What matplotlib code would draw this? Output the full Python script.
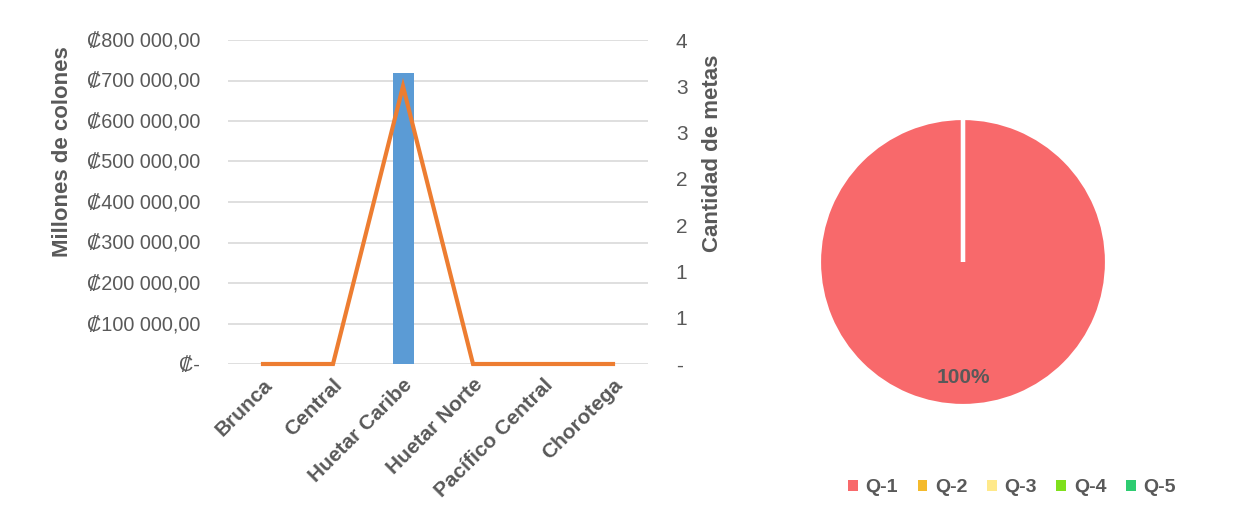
import numpy as np
import matplotlib.pyplot as plt
from matplotlib.patches import Patch
from matplotlib.ticker import FuncFormatter

plt.rcParams['font.family'] = ['Liberation Sans', 'DejaVu Sans']

# data
regiones = ['Brunca', 'Central', 'Huetar Caribe', 'Huetar Norte', 'Pacífico Central', 'Chorotega']
monto = [0, 0, 718000, 0, 0, 0]
metas = [0, 0, 3, 0, 0, 0]

quintiles = ['Q-1', 'Q-2', 'Q-3', 'Q-4', 'Q-5']
pct = [100, 0, 0, 0, 0]
q_colors = ['#F8696B', '#F4BA2C', '#FFE98A', '#7FE01C', '#2ECC71']

txt = '#595959'

fig = plt.figure(figsize=(12.46, 5.21), dpi=100)

ax = fig.add_axes([228/1246, 1-364/521, 420/1246, 324/521])
x = np.arange(len(regiones))
ax.bar(x, monto, width=0.3, color='#5B9BD5', zorder=2)
ax.set_xlim(-0.5, len(regiones)-0.5)
ax.set_ylim(0, 800000)
ax.set_yticks(np.arange(0, 800001, 100000))
ax.yaxis.set_major_formatter(FuncFormatter(
    lambda v, p: '₡-' if v == 0 else '₡' + f'{v:,.2f}'.replace(',', ' ').replace('.', ',')))
ax.grid(axis='y', color='#D9D9D9', lw=1.2, zorder=0)
for s in ax.spines.values():
    s.set_visible(False)
ax.tick_params(axis='y', length=0, pad=20, labelsize=14.3, labelcolor=txt)
ax.set_xticks(x)
ax.set_xticklabels(regiones, rotation=45, ha='right', rotation_mode='anchor',
                   fontsize=15, fontweight='bold', color=txt)
ax.tick_params(axis='x', length=0, pad=8)

ax2 = ax.twinx()
ax2.plot(x, metas, color='#ED7D31', lw=3, solid_joinstyle='miter', zorder=3, clip_on=False)
ax2.set_ylim(0, 3.5)
ax2.set_yticks(np.arange(0, 3.51, 0.5))
ax2.yaxis.set_major_formatter(FuncFormatter(
    lambda v, p: '-' if v == 0 else str(int(np.floor(v + 0.5)))))
ax2.tick_params(axis='y', length=0, pad=20, labelsize=15, labelcolor=txt)
for s in ax2.spines.values():
    s.set_visible(False)

fig.text(62/1246, 1-152/521, 'Millones de colones', rotation=90, ha='center', va='center',
         fontsize=16, fontweight='bold', color=txt)
fig.text(712/1246, 1-153/521, 'Cantidad de metas', rotation=90, ha='center', va='center',
         fontsize=16, fontweight='bold', color=txt)

# pie
axp = fig.add_axes([(963-144)/1246, 1-(262+144)/521, 288/1246, 288/521])
wedges, _, autot = axp.pie(pct, colors=q_colors, startangle=90, counterclock=False,
                           autopct=lambda p: f'{p:.0f}%' if p > 0 else '', pctdistance=0.8,
                           wedgeprops=dict(edgecolor='white', linewidth=3))
for t in autot:
    t.set_fontsize(15)
    t.set_fontweight('bold')
    t.set_color(txt)
axp.set_xlim(-1, 1)
axp.set_ylim(-1, 1)
axp.set_aspect('equal')

handles = [Patch(facecolor=c, edgecolor='none') for c in q_colors]
fig.legend(handles, quintiles, loc='center', bbox_to_anchor=(1012/1246, 1-488/521), ncol=5,
           frameon=False, handlelength=0.5, handleheight=0.5, handletextpad=0.4,
           columnspacing=1.0, prop=dict(size=14, weight='bold'), labelcolor=txt)

fig.savefig('out.png', dpi=100)
plt.close('all')
